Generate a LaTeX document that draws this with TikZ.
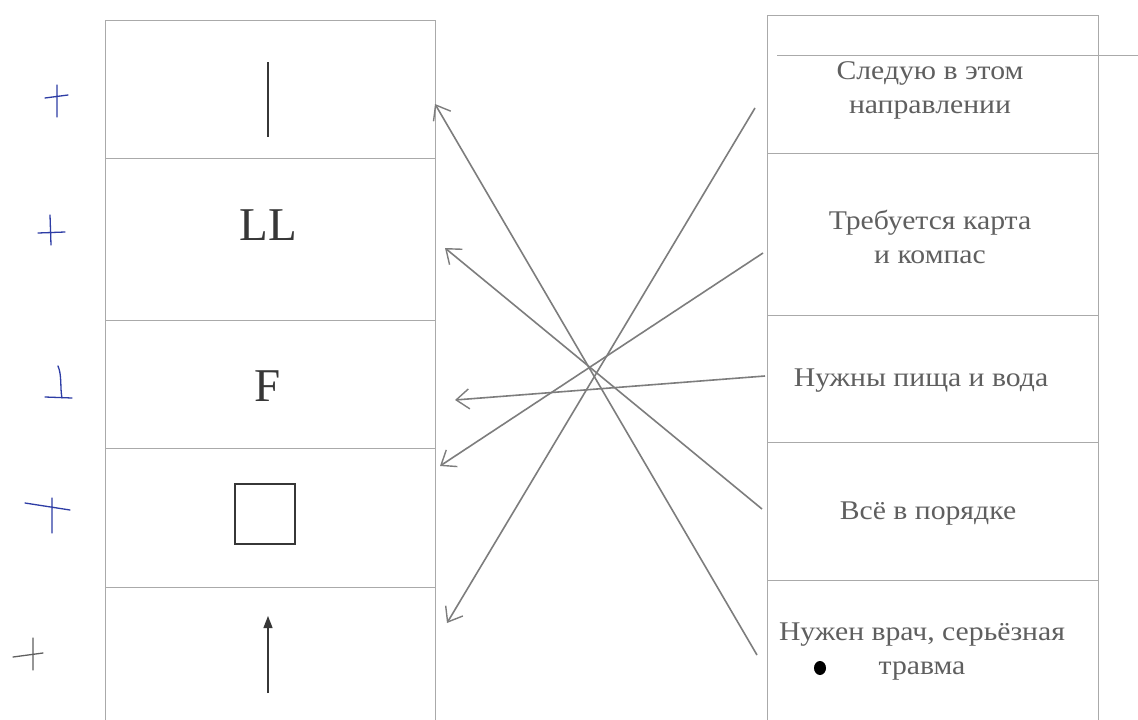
\documentclass[tikz,border=0pt]{standalone}
\usepackage{fontspec}
\setmainfont{Liberation Serif}
\newfontfamily\rfont[FakeStretch=1.1]{Liberation Serif}
\usetikzlibrary{arrows.meta}
\definecolor{gridc}{RGB}{170,170,170}
\definecolor{ink}{RGB}{55,55,55}
\definecolor{txt}{RGB}{95,95,95}
\definecolor{pen}{RGB}{125,125,125}
\definecolor{blueink}{RGB}{45,60,165}
\begin{document}
\begin{tikzpicture}[x=1pt,y=-1pt,
  gridline/.style={draw=gridc,line width=1pt},
  rtext/.style={text=txt,font=\rfont\fontsize{27}{34}\selectfont,align=center,inner sep=0pt},
  sym/.style={text=ink,font=\fontsize{47}{47}\selectfont,inner sep=0pt},
  conn/.style={draw=pen,line width=1.6pt,-{Straight Barb[length=13pt,width=20pt,line width=1.4pt]}},
  handmark/.style={draw=blueink,line width=1.3pt,line cap=round,line join=round},
  symline/.style={draw=ink,line width=1.3pt}]
\useasboundingbox (0,0) rectangle (1138,720);
\fill[white] (0,0) rectangle (1138,720);

% left table
\draw[gridline] (105,720) -- (105,20) -- (435,20) -- (435,720);
\draw[gridline] (105,158) -- (435,158);
\draw[gridline] (105,320) -- (435,320);
\draw[gridline] (105,448) -- (435,448);
\draw[gridline] (105,587) -- (435,587);

% right table
\draw[gridline] (767,720) -- (767,15) -- (1098,15) -- (1098,720);
\draw[gridline] (777,55) -- (1138,55);
\draw[gridline] (767,153) -- (1098,153);
\draw[gridline] (767,315) -- (1098,315);
\draw[gridline] (767,442) -- (1098,442);
\draw[gridline] (767,580) -- (1098,580);

% left symbols
\coordinate (barTop) at (268,62);
\coordinate (barBot) at (268,137);
\draw[symline] (barTop) -- (barBot);
\node[sym] (LL) at (268,225) {LL};
\node[sym] (F) at (268,386) {F};
\node[draw=ink,line width=1.2pt,minimum size=60pt,inner sep=0pt] (sq) at (265,514) {};
\coordinate (upBot) at (268,693);
\coordinate (upTop) at (268,616);
\draw[symline,-{Triangle[length=12pt,width=9pt]}] (upBot) -- (upTop);

% right texts
\node[rtext] (R1) at (930,90) {Следую в этом\\направлении};
\node[rtext] (R2) at (930,237) {Требуется карта\\и компас};
\node[rtext] (R3) at (921,381) {Нужны пища и вода};
\node[rtext] (R4) at (928,514) {Всё в порядке};
\node[rtext] (R5) at (922,652) {Нужен врач, серьёзная\\травма};

% connector ends
\coordinate (t1) at (435,104);
\coordinate (t2) at (445,248);
\coordinate (t3) at (455,400);
\coordinate (t4) at (440,466);
\coordinate (t5) at (447,623);
\coordinate (s1) at (755,108);
\coordinate (s2) at (763,253);
\coordinate (s3) at (765,376);
\coordinate (s4) at (762,509);
\coordinate (s5) at (757,655);

\draw[conn] (s5) -- (t1);
\draw[conn] (s4) -- (t2);
\draw[conn] (s3) -- (t3);
\draw[conn] (s2) -- (t4);
\draw[conn] (s1) -- (t5);

% hand marks
\draw[handmark] (57,85) -- (57,117) (45,98) -- (68,95);
\draw[handmark] (50,215) -- (51,245) (38,233) -- (65,232);
\draw[handmark] (58,366) .. controls (62,375) and (60,388) .. (62,398) (45,397) -- (72,398);
\draw[handmark] (25,503) -- (70,510) (52,498) -- (52,533);
\draw[handmark,draw=ink!80] (13,657) -- (43,653) (33,638) -- (33,670);

% ink blot
\fill[black] (820,668) ellipse (6pt and 7pt);
\end{tikzpicture}
\end{document}
